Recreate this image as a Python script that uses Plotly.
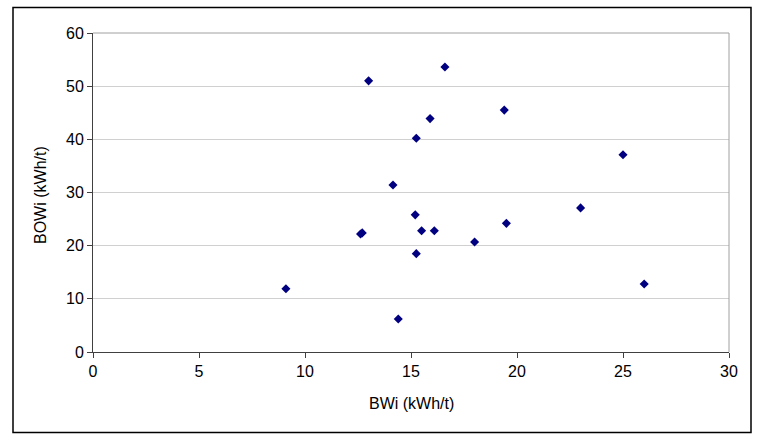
import plotly.graph_objects as go

bwi = [9.1, 14.4, 12.62, 12.7, 13.0, 14.15, 15.25, 15.2, 15.5, 16.1, 15.25, 15.9, 16.6, 18.0, 19.4, 19.5, 23.0, 25.0, 26.0]
bowi = [11.9, 6.2, 22.2, 22.4, 51.0, 31.4, 40.2, 25.8, 22.8, 22.8, 18.5, 43.9, 53.6, 20.7, 45.5, 24.2, 27.1, 37.1, 12.8]

x_ticks = [0, 5, 10, 15, 20, 25, 30]
y_ticks = [0, 10, 20, 30, 40, 50, 60]

FONT = "Liberation Sans, Arial, sans-serif"
FS = 16

fig = go.Figure()
fig.add_trace(go.Scatter(
    x=bwi, y=bowi, mode="markers",
    marker=dict(symbol="diamond", size=7, color="#000080", line=dict(width=0)),
    showlegend=False, hoverinfo="x+y"))

L, R, T, B = 93, 29, 33, 89
W, H = 758, 441
pw, ph = W - L - R, H - T - B

def px_to_paper_x(px):
    return (px - L) / pw

def px_to_paper_y(py):
    return (H - B - py) / ph

fig.update_layout(
    width=W, height=H,
    margin=dict(l=L, r=R, t=T, b=B, pad=0),
    paper_bgcolor="white", plot_bgcolor="white",
    font=dict(family=FONT, size=FS, color="black"),
    xaxis=dict(range=[0, 30], tickvals=x_ticks, ticktext=[str(v) for v in x_ticks],
               showgrid=False, zeroline=False, showline=True, linecolor="#404040", linewidth=1,
               ticks="outside", ticklen=5, tickcolor="#404040", tickwidth=1,
               tickfont=dict(size=FS, family=FONT, color="black"), fixedrange=True),
    yaxis=dict(range=[0, 60], tickvals=y_ticks, ticktext=[str(v) for v in y_ticks],
               showgrid=True, gridcolor="#d0d0d0", gridwidth=1, zeroline=False,
               showline=True, linecolor="#404040", linewidth=1,
               ticks="outside", ticklen=5, tickcolor="#404040", tickwidth=1,
               tickfont=dict(size=FS, family=FONT, color="black"), fixedrange=True),
    shapes=[
        dict(type="line", xref="paper", yref="paper", x0=0, x1=1, y0=1, y1=1,
             line=dict(color="#a0a0a0", width=1)),
        dict(type="line", xref="paper", yref="paper", x0=1, x1=1, y0=0, y1=1,
             line=dict(color="#a0a0a0", width=1)),
        dict(type="rect", xref="paper", yref="paper",
             x0=px_to_paper_x(13), x1=px_to_paper_x(751),
             y0=px_to_paper_y(432.5), y1=px_to_paper_y(7.5),
             line=dict(color="black", width=1.5)),
    ],
    annotations=[
        dict(text="BWi (kWh/t)", xref="paper", yref="paper",
             x=0.5, y=px_to_paper_y(403.5), xanchor="center", yanchor="middle",
             showarrow=False, font=dict(size=FS, family=FONT, color="black")),
        dict(text="BOWi (kWh/t)", xref="paper", yref="paper",
             x=px_to_paper_x(40), y=px_to_paper_y(195), xanchor="center", yanchor="middle",
             textangle=-90, showarrow=False, font=dict(size=FS, family=FONT, color="black")),
    ],
)

fig.write_html("out.html")
